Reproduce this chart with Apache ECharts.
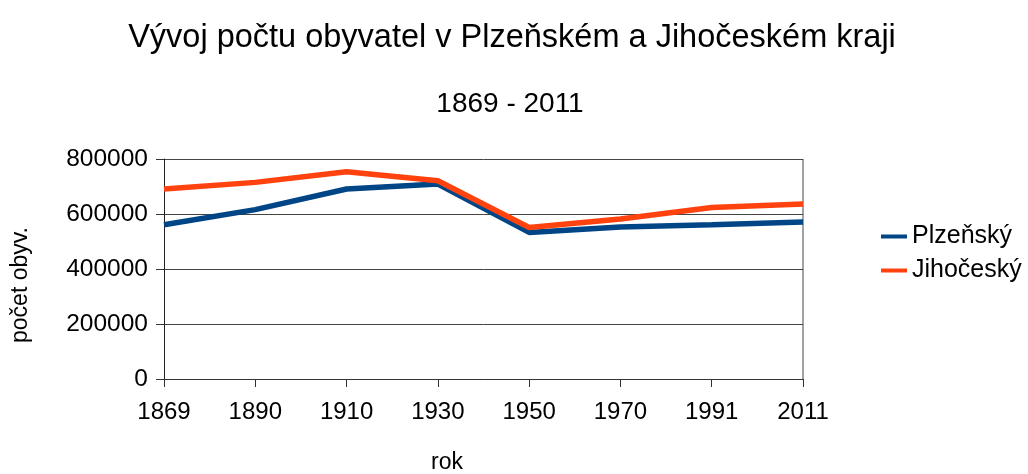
<!DOCTYPE html>
<html>
<head>
<meta charset="utf-8">
<script src="https://cdn.jsdelivr.net/npm/echarts@6/dist/echarts.min.js"></script>
<style>
  html, body { margin: 0; padding: 0; background: #fff; }
  #chart { width: 1028px; height: 474px; }
</style>
</head>
<body>
<div id="chart"></div>
<script>
const years = ["1869", "1890", "1910", "1930", "1950", "1970", "1991", "2011"];
const plzensky = [561000, 616000, 691000, 709000, 533000, 553000, 561000, 571000];
const jihocesky = [691000, 715000, 754000, 721000, 551000, 582000, 624000, 636000];
const yTicks = [0, 200000, 400000, 600000, 800000];

const chart = echarts.init(document.getElementById("chart"));
const font = "Liberation Sans, Arial, sans-serif";

chart.setOption({
  animation: false,
  textStyle: { fontFamily: font },
  title: [
    {
      text: "Vývoj počtu obyvatel v Plzeňském a Jihočeském kraji",
      left: 507, top: 17, textAlign: "center",
      textStyle: { fontSize: 32.5, fontWeight: "normal", color: "#000" }
    },
    {
      text: "1869 - 2011",
      left: 505, top: 85, textAlign: "center",
      textStyle: { fontSize: 28, fontWeight: "normal", color: "#000" }
    }
  ],
  legend: {
    orient: "vertical",
    left: 876, top: 219,
    itemWidth: 26, itemHeight: 4, itemGap: 9,
    icon: "rect",
    textStyle: { fontSize: 25, color: "#000" },
    data: ["Plzeňský", "Jihočeský"]
  },
  grid: { left: 164, right: 225, top: 159, bottom: 95 },
  graphic: [
    {
      type: "text", x: 447, y: 463,
      style: { text: "rok", font: "23px " + font, fill: "#000", textAlign: "center", textVerticalAlign: "middle" }
    },
    {
      type: "text", x: 21, y: 285, rotation: Math.PI / 2,
      style: { text: "počet obyv.", font: "23px " + font, fill: "#000", textAlign: "center", textVerticalAlign: "middle" }
    },
    {
      type: "line", shape: { x1: 803, y1: 159, x2: 803, y2: 379 },
      style: { stroke: "#444", lineWidth: 1 }
    }
  ],
  xAxis: {
    type: "category",
    data: years,
    boundaryGap: false,
    axisLine: { lineStyle: { color: "#333", width: 1 } },
    axisTick: { show: true, alignWithLabel: true, length: 8, lineStyle: { color: "#333" } },
    axisLabel: { fontSize: 24, color: "#000", margin: 21 },
    splitLine: { show: false }
  },
  yAxis: {
    type: "value",
    min: yTicks[0], max: yTicks[yTicks.length - 1], interval: 200000,
    axisLine: { show: true, lineStyle: { color: "#222", width: 1 } },
    axisTick: { show: true, length: 8, lineStyle: { color: "#333" } },
    axisLabel: { fontSize: 24.5, color: "#000", margin: 16, formatter: (v) => String(v) },
    splitLine: { show: true, lineStyle: { color: "#444", width: 1 } }
  },
  series: [
    {
      name: "Plzeňský", type: "line", data: plzensky,
      color: "#004586", symbol: "none",
      lineStyle: { width: 5.5, color: "#004586" }
    },
    {
      name: "Jihočeský", type: "line", data: jihocesky,
      color: "#ff420e", symbol: "none",
      lineStyle: { width: 5.5, color: "#ff420e" }
    }
  ]
});
</script>
</body>
</html>
